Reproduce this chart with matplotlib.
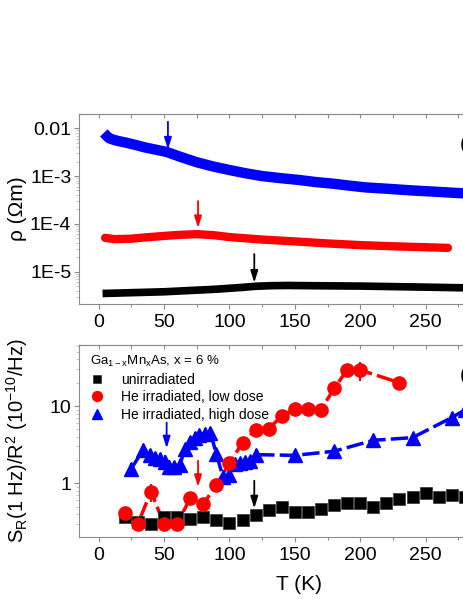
import math
import matplotlib.pyplot as plt
from matplotlib.ticker import FuncFormatter, MultipleLocator, LogLocator, NullFormatter

plt.rcParams['font.family'] = ['Liberation Sans', 'DejaVu Sans']

# ---- top panel: resistivity rho(T) ----
t_rho_high = [4, 6, 8, 11, 14, 18, 21, 28, 35, 43, 52, 63, 75, 87, 100, 112,
              125, 140, 153, 166, 180, 192, 204, 222, 240, 258, 276, 300]
rho_high = [8.0e-3, 7.0e-3, 6.2e-3, 5.8e-3, 5.5e-3, 5.2e-3, 5.0e-3, 4.5e-3,
            4.0e-3, 3.6e-3, 3.2e-3, 2.5e-3, 1.95e-3, 1.6e-3, 1.34e-3, 1.15e-3,
            1.0e-3, 9.0e-4, 8.3e-4, 7.5e-4, 6.9e-4, 6.3e-4, 5.8e-4, 5.4e-4,
            5.0e-4, 4.7e-4, 4.4e-4, 4.1e-4]

t_rho_low = [5, 12, 25, 35, 50, 62, 75, 88, 100, 112, 125, 150, 175, 200,
             225, 250, 267]
rho_low = [5.1e-5, 4.8e-5, 4.9e-5, 5.2e-5, 5.6e-5, 5.9e-5, 6.1e-5, 5.8e-5,
           5.3e-5, 5.0e-5, 4.7e-5, 4.3e-5, 3.9e-5, 3.6e-5, 3.4e-5, 3.25e-5,
           3.15e-5]

t_rho_unirr = [3, 50, 90, 110, 120, 132, 145, 160, 200, 240, 280, 300]
rho_unirr = [3.5e-6, 3.8e-6, 4.3e-6, 4.7e-6, 4.95e-6, 5.1e-6, 5.15e-6,
             5.1e-6, 5.0e-6, 4.8e-6, 4.6e-6, 4.55e-6]

# ---- bottom panel: normalized noise S_R/R^2 ----
t_unirr = [20, 30, 40, 50, 60, 70, 80, 90, 100, 110, 120, 130, 140, 150,
           160, 170, 180, 190, 200, 210, 220, 230, 240, 250, 260, 270, 280]
s_unirr = [0.37, 0.32, 0.30, 0.37, 0.37, 0.35, 0.37, 0.335, 0.31, 0.335,
           0.39, 0.45, 0.49, 0.42, 0.425, 0.47, 0.52, 0.56, 0.56, 0.50,
           0.55, 0.63, 0.66, 0.74, 0.67, 0.71, 0.67]

t_low = [20, 30, 40, 50, 60, 70, 80, 90, 100, 110, 120, 130, 140, 150,
         160, 170, 180, 190, 200, 230]
s_low = [0.41, 0.30, 0.78, 0.30, 0.30, 0.64, 0.54, 0.95, 1.82, 3.35, 4.9,
         5.1, 7.4, 9.1, 9.1, 8.9, 16.9, 29.2, 29.2, 20.0]
err_low = [0, 0, 0.2, 0, 0, 0, 0, 0, 0, 0, 0, 0, 0, 0, 0, 0, 0, 0, 8.0, 0]

t_high = [25, 34, 39, 43, 47, 50.5, 54, 58, 62, 66, 69.5, 73.5, 77, 81,
          85.5, 90, 95, 99.5, 104, 108, 112, 116, 120, 150, 180, 210, 240,
          270, 280]
s_high = [1.55, 2.7, 2.35, 2.15, 2.05, 1.9, 1.65, 1.62, 1.72, 2.75, 3.4,
          3.9, 4.2, 4.4, 4.5, 2.4, 1.22, 1.28, 1.8, 1.85, 1.9, 1.95, 2.35,
          2.3, 2.6, 3.6, 3.9, 7.1, 8.9]
err_high = [0.3, 0.5, 0.4, 0.4, 0.4, 0.4, 0.35, 0.35, 0.35, 0.5, 0.6, 0.7,
            0.7, 0.8, 0.8, 0.4, 0.2, 0.2, 0.3, 0.3, 0.3, 0.3, 0.4, 0.4,
            0.45, 0.6, 0.6, 1.2, 1.5]

# transition arrows (T, y_start, y_end, colour)
arrows_top = [(53, 1.37e-2, 3.6e-3, 'blue'), (76, 3.0e-4, 8.2e-5, 'red'),
              (119, 2.34e-5, 5.9e-6, 'black')]
arrows_bot = [(52, 6.1, 2.84, 'blue'), (76, 1.96, 0.90, 'red'),
              (119, 1.08, 0.475, 'black')]

spine_col = '#8c8c8c'

fig = plt.figure(figsize=(4.63, 5.99), dpi=100)
ax1 = fig.add_axes([0.1706, 0.4925, 0.890, 0.3172])
ax2 = fig.add_axes([0.1706, 0.104, 0.890, 0.320])


def style_axes(ax):
    ax.set_yscale('log')
    ax.set_xlim(-15, 300)
    ax.xaxis.set_major_locator(MultipleLocator(50))
    ax.xaxis.set_minor_locator(MultipleLocator(25))
    ax.xaxis.set_major_formatter(FuncFormatter(lambda v, p: f'{v:.0f}' if v < 270 else ''))
    for s in ax.spines.values():
        s.set_color(spine_col)
        s.set_linewidth(0.8)
    ax.tick_params(axis='both', which='both', direction='out', colors=spine_col,
                   labelcolor='black', labelsize=14, right=False, top=False,
                   width=0.8)
    ax.tick_params(axis='both', which='major', length=3.5, pad=2)
    ax.tick_params(axis='both', which='minor', length=2.5)
    ax.tick_params(axis='y', which='minor', colors='#c8c8c8')
    ax.tick_params(axis='x', which='major', pad=4)
    top = ax.secondary_xaxis('top')
    top.xaxis.set_major_locator(MultipleLocator(50))
    top.xaxis.set_minor_locator(MultipleLocator(25))
    top.tick_params(which='both', direction='in', length=3, colors=spine_col,
                    labeltop=False, width=0.8)
    top.spines['top'].set_color(spine_col)
    top.spines['top'].set_linewidth(0.8)


style_axes(ax1)
style_axes(ax2)

# top panel
ax1.plot(t_rho_high, rho_high, color='blue', lw=7.5, solid_capstyle='butt')
ax1.plot(t_rho_low, rho_low, color='red', lw=6, solid_capstyle='round')
ax1.plot(t_rho_unirr, rho_unirr, color='black', lw=5.5, solid_capstyle='butt')
ax1.set_ylim(2.11e-6, 1.99e-2)
ax1.yaxis.set_major_locator(LogLocator(base=10, numticks=10))
ax1.yaxis.set_minor_locator(LogLocator(base=10, subs=range(2, 10), numticks=20))
ax1.yaxis.set_minor_formatter(NullFormatter())
labels_top = {-2: '0.01', -3: '1E-3', -4: '1E-4', -5: '1E-5'}


def fmt_top(v, pos):
    e = int(round(math.log10(v)))
    return labels_top.get(e, '')


ax1.yaxis.set_major_formatter(FuncFormatter(fmt_top))
ax1.set_ylabel('ρ (Ωm)', fontsize=15)
ax1.yaxis.set_label_coords(-0.125, 0.5)
ax1.text(0.923, 0.84, '(a)', transform=ax1.transAxes, fontsize=15,
         va='center', ha='left')

# bottom panel
ax2.plot(t_low, s_low, color='red', lw=2.5, ls=(0, (5, 1.5)), zorder=2)
ax2.plot(t_high, s_high, color='blue', lw=2.5, ls=(0, (5, 1.5)), zorder=2)
ax2.errorbar(t_high, s_high, yerr=err_high, fmt='none', ecolor='blue',
             elinewidth=1.5, capsize=0, zorder=3)
ax2.errorbar(t_low, s_low, yerr=err_low, fmt='none', ecolor='red',
             elinewidth=1.5, capsize=0, zorder=3)
h_unirr, = ax2.plot(t_unirr, s_unirr, 's', color='black', ms=8,
                    mec='#333333', mew=0.5, zorder=4, label='unirradiated')
h_high, = ax2.plot(t_high, s_high, '^', color='blue', ms=10, mec='blue',
                   zorder=5, label='He irradiated, high dose')
h_low, = ax2.plot(t_low, s_low, 'o', color='red', ms=9.5, mec='red',
                  zorder=6, label='He irradiated, low dose')
ax2.set_ylim(0.204, 61.5)
ax2.yaxis.set_major_locator(LogLocator(base=10, numticks=10))
ax2.yaxis.set_minor_locator(LogLocator(base=10, subs=range(2, 10), numticks=20))
ax2.yaxis.set_minor_formatter(NullFormatter())
ax2.yaxis.set_major_formatter(FuncFormatter(lambda v, p: f'{v:g}'))
ax2.set_ylabel('S$_\\mathregular{R}$(1 Hz)/R$^\\mathregular{2}$ (10$^\\mathregular{-10}$/Hz)',
               fontsize=14.5)
ax2.yaxis.set_label_coords(-0.12, 0.5)
ax2.set_xlabel('T (K)', fontsize=15)
ax2.xaxis.set_label_coords(0.534, -0.2)
ax2.text(0.923, 0.84, '(b)', transform=ax2.transAxes, fontsize=15,
         va='center', ha='left')

leg = ax2.legend(handles=[h_unirr, h_low, h_high], loc='upper left',
                 bbox_to_anchor=(0.0, 1.01), frameon=False, fontsize=10,
                 title='Ga$_\\mathregular{1-x}$Mn$_\\mathregular{x}$As, x = 6 %',
                 title_fontsize=9.5, alignment='left', markerscale=0.75,
                 handlelength=1.0, handletextpad=1.2, labelspacing=0.25,
                 borderpad=0.3)

for ax, arrs in ((ax1, arrows_top), (ax2, arrows_bot)):
    for t, y0, y1, c in arrs:
        ax.annotate('', xy=(t, y1), xytext=(t, y0),
                    arrowprops=dict(arrowstyle='-|>,head_width=0.22,head_length=0.7',
                                    color=c, lw=1.3, shrinkA=0, shrinkB=0),
                    zorder=7)

fig.savefig('out.png', dpi=100)
